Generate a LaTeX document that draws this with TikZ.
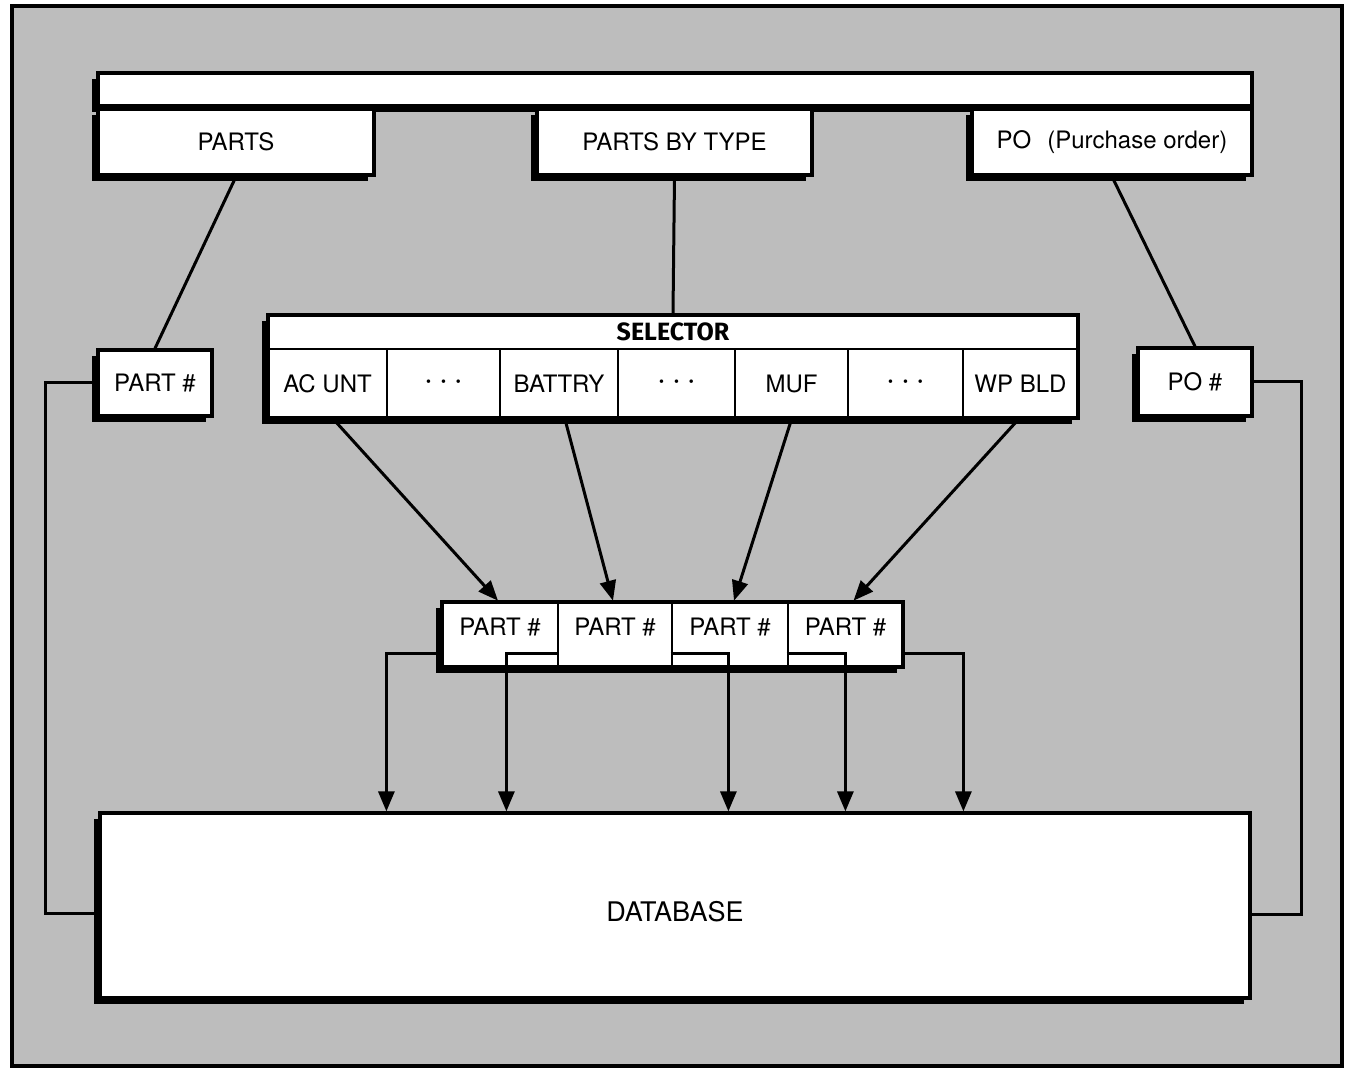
\documentclass[tikz,border=0pt]{standalone}
\usepackage{fontspec}
\setmainfont{TeX Gyre Heros}
\newfontfamily\selfont{Fira Sans}
\usetikzlibrary{positioning, calc, shadows, arrows.meta}

\newcommand{\tridots}{{\fontsize{7}{8}\selectfont\textbullet\hspace{5pt}\textbullet\hspace{5pt}\textbullet}}

\begin{document}
\begin{tikzpicture}[x=0.5pt, y=-0.5pt, font=\fontsize{12}{14}\selectfont]
	\tikzstyle{shadowbox}=[rectangle, draw=black, line width=1.6pt, fill=white, inner sep=0pt, drop shadow={shadow xshift=-3pt, shadow yshift=-3pt, fill=black, opacity=1}]
	\tikzstyle{cell}=[rectangle, draw=black, line width=1.3pt, inner sep=0pt, minimum height=34.5pt]
	\tikzstyle{rowcell}=[rectangle, draw=black, line width=1.3pt, inner sep=0pt, minimum height=32.5pt]
	\tikzstyle{wire}=[line width=1.5pt]
	\tikzstyle{arr}=[line width=1.5pt, -{Triangle[length=10pt, width=8pt]}]
	
	\useasboundingbox (0,0) rectangle (1346,1068);
	\draw[line width=2pt, fill=black!26] (12,6) rectangle (1342,1066);
	
	% top files
	\node (bar) at (675,89.5) [shadowbox, minimum width=577pt, minimum height=16.5pt] {};
	\node (parts) at (236,142) [shadowbox, minimum width=138pt, minimum height=33pt] {PARTS};
	\node (bytype) at (674.5,142) [shadowbox, minimum width=137.5pt, minimum height=33pt] {PARTS BY TYPE};
	\node (po) at (1112,142) [shadowbox, minimum width=140pt, minimum height=33pt] {PO\hspace{8pt}(Purchase order)};
	
	% selector
	\node (sel) at (673,366.5) [shadowbox, minimum width=405pt, minimum height=51.5pt] {};
	\node (seltitle) at (673,332) {\selfont\bfseries\fontsize{12.5}{14}\selectfont SELECTOR};
	\node (acunt) at (327.5,383.5) [cell, minimum width=59.5pt] {AC UNT};
	\node (dots1) at (443.5,383.5) [cell, minimum width=56.5pt] {\tridots};
	\node (battry) at (559,383.5) [cell, minimum width=59pt] {BATTRY};
	\node (dots2) at (676.5,383.5) [cell, minimum width=58.5pt] {\tridots};
	\node (muf) at (791.5,383.5) [cell, minimum width=56.5pt] {MUF};
	\node (dots3) at (905.5,383.5) [cell, minimum width=57.5pt] {\tridots};
	\node (wpbld) at (1020.5,383.5) [cell, minimum width=57.5pt] {WP BLD};
	
	% index boxes
	\node (partno) at (155,383) [shadowbox, minimum width=57pt, minimum height=33pt] {PART \#};
	\node (pono) at (1195,382) [shadowbox, minimum width=57pt, minimum height=34pt] {PO \#};
	
	\draw[wire] (parts.south) -- (partno.north);
	\draw[wire] (bytype.south) -- (sel.north);
	\draw[wire] (po.south) -- (pono.north);
	
	% part number list
	\node (row) at (672.5,634.5) [shadowbox, minimum width=230.5pt, minimum height=32.5pt] {};
	\node (p1) at (500,634.5) [rowcell, minimum width=58pt] {\raisebox{-0.5pt}[0pt][0pt]{PART \#}};
	\node (p2) at (615,634.5) [rowcell, minimum width=57pt] {\raisebox{-0.5pt}[0pt][0pt]{PART \#}};
	\node (p3) at (730,634.5) [rowcell, minimum width=58pt] {\raisebox{-0.5pt}[0pt][0pt]{PART \#}};
	\node (p4) at (845.5,634.5) [rowcell, minimum width=57.5pt] {\raisebox{-0.5pt}[0pt][0pt]{PART \#}};
	
	\draw[arr] ($(acunt.south)+(6,0)$) -- ($(p1.north)+(-2,0)$);
	\draw[arr] ($(battry.south)+(6,0)$) -- ($(p2.north)+(-2,0)$);
	\draw[arr] (muf.south) -- ($(p3.north)+(4,0)$);
	\draw[arr] ($(wpbld.south)+(-2,0)$) -- ($(p4.north)+(8,0)$);
	
	% database
	\node (db) at (675,905.5) [shadowbox, minimum width=575pt, minimum height=92.5pt] {\raisebox{-8pt}[0pt][0pt]{\fontsize{13.5}{15}\selectfont DATABASE}};
	
	\draw[arr] ($(p1.south west)+(0,-15)$) -| ($(db.north west)+(288,0)$);
	\draw[arr] ($(p2.south west)+(0,-15)$) -| ($(db.north west)+(408,0)$);
	\draw[arr] ($(p3.south west)+(0,-15)$) -| ($(db.north west)+(630,0)$);
	\draw[arr] ($(p4.south west)+(0,-15)$) -| ($(db.north west)+(747,0)$);
	\draw[arr] ($(p4.south east)+(0,-15)$) -| ($(db.north west)+(865,0)$);
	
	\draw[wire] (partno.west) -- ++(-51,0) |- ($(db.west)+(0,8)$);
	\draw[wire] (pono.east) -- ++(48,0) |- ($(db.east)+(0,9)$);
\end{tikzpicture}
\end{document}
